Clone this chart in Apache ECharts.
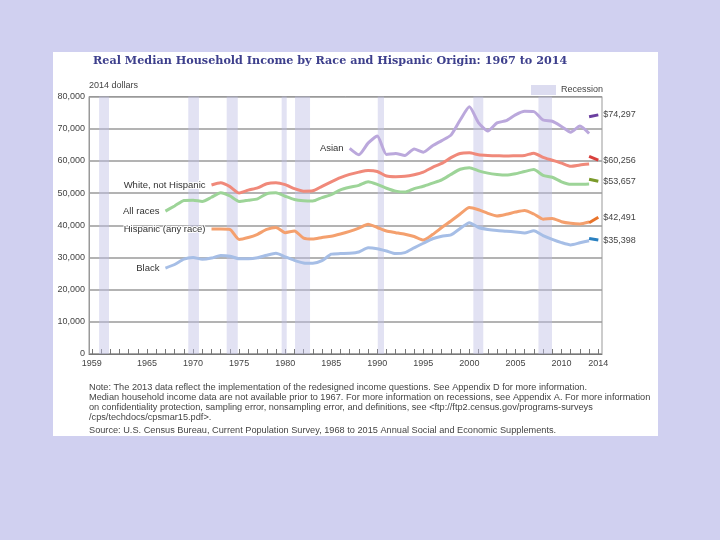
<!DOCTYPE html>
<html><head><meta charset="utf-8">
<script src="https://cdn.jsdelivr.net/npm/echarts@6/dist/echarts.min.js"></script>
<style>html,body{margin:0;padding:0;background:#d0d0f0}#c{width:720px;height:540px}</style>
</head><body><div id="c"></div>
<script>
// ---- data ----
const allRacesStart = 1967;
const allRaces = [44400,46000,47700,47800,47400,48700,50100,49100,47400,47800,48200,49800,50100,49000,48000,47600,47500,48600,49500,51000,51800,52400,53500,52700,51500,50600,50300,51400,52100,53100,54100,55800,57400,57900,56900,56200,55800,55600,56000,56700,57300,55500,54900,53500,52700,52700,52800];
const whiteStart = 1972;
const whiteNH = [52500,53200,52000,50000,50900,51600,52900,53200,52600,51400,50600,50700,52100,53500,54800,55800,56500,57000,56700,55300,55100,55200,55700,56500,58000,59200,61000,62300,62500,61900,61700,61600,61500,61600,61700,62400,61100,60200,59300,58300,58700,59000];
const hispStart = 1972;
const hispanic = [38800,38800,38700,35600,36200,37200,38700,39300,37700,38200,36000,35700,36200,36600,37300,38100,39100,40300,39300,38200,37700,37200,36500,35400,37100,39300,41300,43500,45500,44800,43700,42900,43400,44100,44600,43500,41900,42100,41100,40600,40400,41000];
const blackStart = 1967;
const black = [26700,27800,29500,30000,29400,29800,30600,30400,29600,29600,29900,30700,31300,30200,29100,28300,28200,29000,31000,31200,31300,31700,33000,32700,32000,31200,31500,33000,34400,35800,36600,37000,39000,40800,39300,38700,38350,38150,37900,37600,38300,36800,35600,34600,33900,34550,35200];
const asianStart = 1987;
const asian = [63900,61900,65500,67700,62000,62300,61700,63700,62700,64700,66300,68000,72700,76800,71800,69300,71800,72500,74300,75400,75300,72700,72300,70700,68900,70800,68500];
// redesigned-questions segments (2013 new, 2014)
const newYears = [2013, 2014];
const asianNew = [73700, 74297];
const whiteNew = [61400, 60256];
const allNew = [54300, 53657];
const hispNew = [40800, 42491];
const blackNew = [35900, 35398];
// recessions (as drawn)
const recessions = [[1959.8,1960.87],[1969.48,1970.64],[1973.65,1974.85],[1979.62,1980.17],[1981.07,1982.7],[1990.05,1990.73],[2000.43,2001.51],[2007.5,2008.97]];
const xLabelYears = [1959,1965,1970,1975,1980,1985,1990,1995,2000,2005,2010,2014];
const tickYears = []; for (let y = 1959; y <= 2014; y++) tickYears.push(y);

// ---- build ----
function pts(start, vals, name) {
  return vals.map((v, i) => {
    const p = { value: [start + i, v] };
    if (i === 0) p.label = { show: true, position: 'left', distance: 6, formatter: name,
      fontSize: 9.5, color: '#333', fontFamily: 'Liberation Sans', textBorderColor: '#fff', textBorderWidth: 2 };
    return p;
  });
}
function mainSeries(name, start, vals, color) {
  return { name, type: 'line', data: pts(start, vals, name), showSymbol: true, showAllSymbol: true,
    symbol: 'circle', symbolSize: 0, label: { show: false },
    lineStyle: { color, width: 3 }, itemStyle: { color }, smooth: 0.2, z: 3, silent: true };
}
function newSeries(name, vals, color) {
  return { name: name + ' (new)', type: 'line', data: newYears.map((y, i) => [y, vals[i]]), symbol: 'none',
    lineStyle: { color, width: 3 }, itemStyle: { color }, z: 4, silent: true,
    endLabel: { show: true, distance: 5, fontSize: 9, color: '#444', fontFamily: 'Liberation Sans',
      formatter: p => '$' + p.value[1].toLocaleString('en-US') } };
}
const fmt = v => v.toLocaleString('en-US');
const noteFont = '9.2px "Liberation Sans"';

const chart = echarts.init(document.getElementById('c'));
chart.setOption({
  backgroundColor: '#d0d0f0',
  animation: false,
  graphic: [
    { type: 'rect', z: -10, shape: { x: 53, y: 52, width: 605, height: 384 }, style: { fill: '#ffffff' } },
    { type: 'text', left: 89, top: 383, style: { text: 'Note: The 2013 data reflect the implementation of the redesigned income questions. See Appendix D for more information.', font: noteFont, fill: '#444' } },
    { type: 'text', left: 89, top: 393, style: { text: 'Median household income data are not available prior to 1967. For more information on recessions, see Appendix A. For more information', font: noteFont, fill: '#444' } },
    { type: 'text', left: 89, top: 403, style: { text: 'on confidentiality protection, sampling error, nonsampling error, and definitions, see <ftp://ftp2.census.gov/programs-surveys', font: noteFont, fill: '#444' } },
    { type: 'text', left: 89, top: 413, style: { text: '/cps/techdocs/cpsmar15.pdf>.', font: noteFont, fill: '#444' } },
    { type: 'text', left: 89, top: 426, style: { text: 'Source: U.S. Census Bureau, Current Population Survey, 1968 to 2015 Annual Social and Economic Supplements.', font: noteFont, fill: '#444' } }
  ],
  title: { text: 'Real Median Household Income by Race and Hispanic Origin: 1967 to 2014', left: 88, top: 51,
    textStyle: { fontSize: 11.2, fontWeight: 'bold', color: '#3d3f8c', fontFamily: 'DejaVu Serif' } },
  legend: { data: [{ name: 'Recession', icon: 'rect' }], left: 526, top: 80, itemWidth: 25, itemHeight: 10, itemGap: 4,
    textStyle: { fontSize: 9, color: '#444', fontFamily: 'Liberation Sans' }, selectedMode: false },
  grid: { left: 89, right: 118, top: 96.5, bottom: 186, show: true, borderColor: '#999', borderWidth: 1 },
  xAxis: { type: 'value', min: 1958.7, max: 2014.4,
    axisLine: { show: true, lineStyle: { color: '#777', width: 1 } },
    axisTick: { show: true, inside: true, length: 5, customValues: tickYears, lineStyle: { color: '#777' } },
    axisLabel: { customValues: xLabelYears, formatter: v => String(v), fontSize: 9, color: '#444', margin: 5, fontFamily: 'Liberation Sans' },
    splitLine: { show: false } },
  yAxis: { type: 'value', min: 0, max: 80000, interval: 10000,
    name: '2014 dollars', nameLocation: 'end', nameGap: 6,
    nameTextStyle: { align: 'left', fontSize: 9, color: '#444', fontFamily: 'Liberation Sans' },
    axisLine: { show: true, lineStyle: { color: '#999' } }, axisTick: { show: false },
    axisLabel: { formatter: v => fmt(v), fontSize: 9, color: '#444', margin: 4, fontFamily: 'Liberation Sans' },
    splitLine: { lineStyle: { color: '#9a9a9a', width: 1.5 } } },
  series: [
    { name: 'Recession', type: 'line', data: [], itemStyle: { color: '#dcdcf0' }, silent: true, z: 1,
      markArea: { silent: true, itemStyle: { color: 'rgba(190,190,228,0.45)' },
        data: recessions.map(r => [{ xAxis: r[0] }, { xAxis: r[1] }]) } },
    mainSeries('Asian', asianStart, asian, '#bba8dc'),
    mainSeries('White, not Hispanic', whiteStart, whiteNH, '#f0897a'),
    mainSeries('All races', allRacesStart, allRaces, '#9dd498'),
    mainSeries('Hispanic (any race)', hispStart, hispanic, '#f4a06e'),
    mainSeries('Black', blackStart, black, '#a6bee6'),
    newSeries('Asian', asianNew, '#6b3fa0'),
    newSeries('White, not Hispanic', whiteNew, '#d9403c'),
    newSeries('All races', allNew, '#7a9a2a'),
    newSeries('Hispanic (any race)', hispNew, '#e8742a'),
    newSeries('Black', blackNew, '#2a80c0')
  ]
});
</script></body></html>
